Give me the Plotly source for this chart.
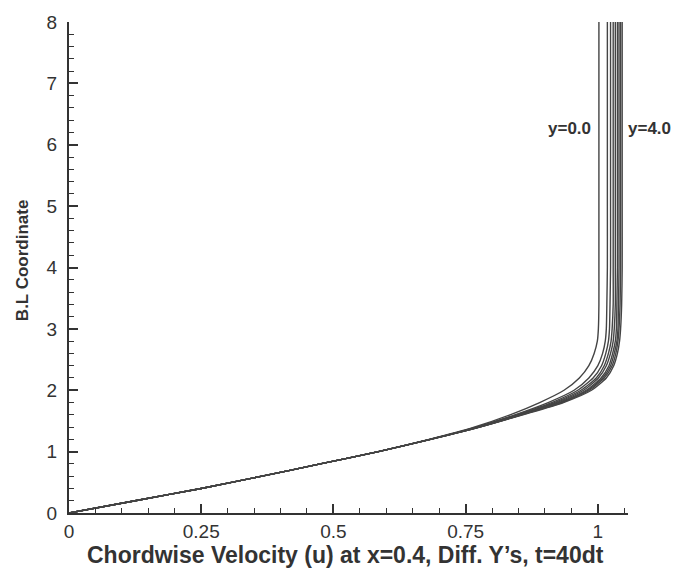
import plotly.graph_objects as go

# B.L coordinate (vertical) shared by all profiles
bl_coord = [0, 0.2, 0.4, 0.6, 0.8, 1.0, 1.2, 1.4, 1.6, 1.8, 2.0, 2.2, 2.4,
            2.6, 2.8, 3.0, 3.4, 4.0, 5.0, 6.0, 7.0, 8.0]

# Chordwise velocity profiles at different spanwise stations (y=0.0 ... y=4.0)
u_y00 = [0, 0.125, 0.25, 0.365, 0.475, 0.585, 0.681, 0.766, 0.834, 0.890, 0.936, 0.965, 0.983,
         0.993, 0.999, 1.001, 1.002, 1.002, 1.002, 1.002, 1.002, 1.002]
u_y05 = [0, 0.125, 0.25, 0.365, 0.475, 0.585, 0.682, 0.770, 0.843, 0.906, 0.955, 0.983, 1.000,
         1.009, 1.014, 1.016, 1.017, 1.018, 1.018, 1.018, 1.018, 1.018]
u_y10 = [0, 0.125, 0.25, 0.365, 0.475, 0.585, 0.683, 0.772, 0.846, 0.913, 0.962, 0.991, 1.007,
         1.015, 1.020, 1.022, 1.023, 1.024, 1.024, 1.024, 1.024, 1.024]
u_y15 = [0, 0.125, 0.25, 0.365, 0.475, 0.585, 0.683, 0.773, 0.849, 0.918, 0.968, 0.997, 1.012,
         1.020, 1.025, 1.027, 1.029, 1.029, 1.029, 1.029, 1.029, 1.029]
u_y20 = [0, 0.125, 0.25, 0.365, 0.475, 0.585, 0.683, 0.774, 0.851, 0.922, 0.973, 1.001, 1.016,
         1.024, 1.029, 1.031, 1.033, 1.033, 1.033, 1.033, 1.033, 1.033]
u_y25 = [0, 0.125, 0.25, 0.365, 0.475, 0.585, 0.683, 0.775, 0.853, 0.926, 0.978, 1.006, 1.021,
         1.028, 1.033, 1.035, 1.036, 1.037, 1.037, 1.037, 1.037, 1.037]
u_y30 = [0, 0.125, 0.25, 0.365, 0.475, 0.585, 0.684, 0.776, 0.855, 0.929, 0.981, 1.009, 1.024,
         1.031, 1.036, 1.038, 1.039, 1.040, 1.040, 1.040, 1.040, 1.040]
u_y35 = [0, 0.125, 0.25, 0.365, 0.475, 0.585, 0.684, 0.776, 0.856, 0.932, 0.984, 1.012, 1.027,
         1.034, 1.038, 1.040, 1.042, 1.043, 1.043, 1.043, 1.043, 1.043]
u_y40 = [0, 0.125, 0.25, 0.365, 0.475, 0.585, 0.684, 0.777, 0.858, 0.935, 0.988, 1.016, 1.030,
         1.037, 1.041, 1.043, 1.045, 1.046, 1.046, 1.046, 1.046, 1.046]

profiles = [("y=0.0", u_y00), ("y=0.5", u_y05), ("y=1.0", u_y10), ("y=1.5", u_y15),
            ("y=2.0", u_y20), ("y=2.5", u_y25), ("y=3.0", u_y30), ("y=3.5", u_y35),
            ("y=4.0", u_y40)]

x_ticks = [0, 0.25, 0.5, 0.75, 1]
x_ticktext = ["0", "0.25", "0.5", "0.75", "1"]
y_ticks = [0, 1, 2, 3, 4, 5, 6, 7, 8]

FONT = "Liberation Sans, Arial, sans-serif"
INK = "#333333"

fig = go.Figure()
for name, u in profiles:
    fig.add_trace(go.Scatter(
        x=u, y=bl_coord, mode="lines", name=name,
        line=dict(color="#444444", width=1.4, shape="spline", smoothing=0.6),
        showlegend=False, hoverinfo="skip"))

fig.add_annotation(x=0.99, y=6.27, xref="x", yref="y", text="<b>y=0.0</b>",
                   showarrow=False, xanchor="right", yanchor="middle",
                   font=dict(family=FONT, size=17, color=INK))
fig.add_annotation(x=1.054, y=6.27, xref="x", yref="y", text="<b>y=4.0</b>",
                   showarrow=False, xanchor="left", yanchor="middle",
                   font=dict(family=FONT, size=17, color=INK))

fig.add_annotation(x=0.495, y=0, xref="paper", yref="paper", yshift=-27,
                   text="<b>Chordwise Velocity (u) at x=0.4, Diff. Y’s, t=40dt</b>",
                   showarrow=False, xanchor="center", yanchor="top",
                   font=dict(family=FONT, size=23, color=INK))
fig.add_annotation(x=0, y=0.515, xref="paper", yref="paper", xshift=-47,
                   text="<b>B.L Coordinate</b>", textangle=-90,
                   showarrow=False, xanchor="center", yanchor="middle",
                   font=dict(family=FONT, size=17, color=INK))

fig.update_xaxes(range=[0, 1.057], tickvals=x_ticks, ticktext=x_ticktext,
                 ticks="inside", ticklen=9, tickwidth=2, tickcolor=INK,
                 minor=dict(dtick=0.05, ticks="inside", ticklen=5, tickwidth=1.3, tickcolor=INK),
                 showline=True, linewidth=2, linecolor=INK, showgrid=False, zeroline=False,
                 tickfont=dict(family=FONT, size=19, color=INK))
fig.update_yaxes(range=[0, 8], tickvals=y_ticks,
                 ticks="inside", ticklen=9, tickwidth=2, tickcolor=INK,
                 minor=dict(dtick=0.2, ticks="inside", ticklen=5, tickwidth=1.3, tickcolor=INK),
                 showline=True, linewidth=2, linecolor=INK, showgrid=False, zeroline=False,
                 tickfont=dict(family=FONT, size=19, color=INK), ticklabelstandoff=6)

fig.update_layout(width=677, height=568, margin=dict(l=69, r=49, t=14, b=55),
                  plot_bgcolor="white", paper_bgcolor="white")

fig.write_html("out.html")
